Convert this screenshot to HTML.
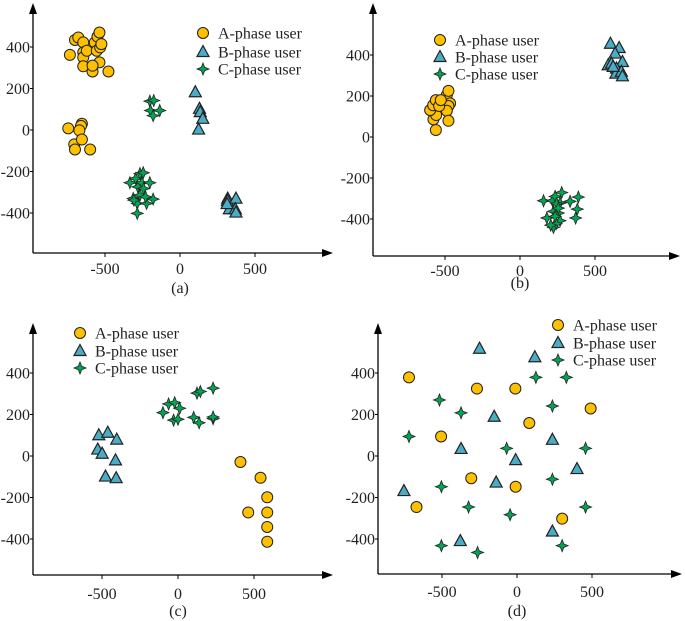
<!DOCTYPE html>
<html><head><meta charset="utf-8"><style>
body{margin:0;background:#fff}
svg{display:block;font-family:"Liberation Serif",serif}
</style></head><body>
<svg id="fig" width="685" height="621" viewBox="0 0 685 621"></svg>
<script>
// Panel (a)
const aA_x=[-734,-700,-678,-645,-645,-645,-621,-645,-583,-568,-550,-537,-555,-532,-524,-537,-583,-477,-745,-654,-660,-671,-705,-700,-654,-599];
const aA_y=[362,434,446,422,374,350,382,307,282,422,450,470,382,398,414,326,310,282,8,30,20,-2,-69,-94,-46,-94];
const aB_x=[102,130,135,152,124,318,316,329,373,369,373,314];
const aB_y=[182,102,86,54,2,-331,-342,-382,-331,-382,-398,-357];
const aC_x=[-201,-175,-197,-135,-179,-334,-296,-267,-245,-281,-254,-201,-243,-312,-267,-285,-223,-179,-285,-307,-230];
const aC_y=[139,142,94,94,69,-254,-234,-210,-206,-274,-254,-254,-282,-330,-314,-354,-354,-333,-402,-338,-322];
// Panel (b)
const bA_x=[-561,-577,-559,-599,-579,-561,-506,-488,-477,-466,-477,-488,-477,-539,-528];
const bA_y=[34,86,107,131,155,180,180,204,225,164,151,128,79,151,180];
const bB_x=[603,661,634,588,610,683,643,639,676,683,621];
const bB_y=[455,434,407,350,358,366,334,309,318,296,342];
const bC_x=[157,217,234,278,267,334,389,382,371,179,223,256,267,223,241,205,245,256,234];
const bC_y=[-311,-311,-290,-271,-322,-314,-293,-352,-395,-395,-363,-371,-408,-441,-423,-430,-325,-347,-387];
// Panel (c)
const cA_x=[411,543,587,587,587,587,462];
const cA_y=[-29,-105,-199,-272,-342,-413,-272];
const cB_x=[-521,-462,-403,-528,-499,-411,-477,-407];
const cB_y=[100,112,79,31,11,-21,-99,-107];
const cC_x=[-99,-62,-22,11,-29,0,103,139,125,147,231,231,231];
const cC_y=[209,251,257,230,173,177,186,160,303,311,327,180,188];
// Panel (d)
const dA_x=[-720,-267,-11,82,491,-506,-305,-9,-670,301];
const dA_y=[379,325,325,159,229,94,-107,-148,-246,-302];
const dB_x=[-250,119,-152,236,-373,-9,400,-139,-754,236,-378];
const dB_y=[517,476,189,78,34,-20,-63,-128,-169,-364,-410];
const dC_x=[126,329,-517,-373,236,-720,-69,457,-504,236,-323,-46,457,-504,-263,301];
const dC_y=[379,379,270,208,241,94,37,37,-148,-112,-246,-283,-246,-432,-465,-432];
const xTicks=[-500,0,500];
const yTicks=[400,200,0,-200,-400];
const legendLabels=["A-phase user","B-phase user","C-phase user"];

const NS="http://www.w3.org/2000/svg";
const svg=document.getElementById('fig');
function mk(tag,attrs,parent){const e=document.createElementNS(NS,tag);for(const k in attrs)e.setAttribute(k,attrs[k]);(parent||svg).appendChild(e);return e;}

const panels=[
 {id:'a',ax:33,x0:180,x5:255,y0:130,y4:47,axY:253,top:3,right:333,xl:268,cap:288,lx:203,ly:[33,52,69],data:[[aA_x,aA_y],[aB_x,aB_y],[aC_x,aC_y]]},
 {id:'b',ax:373,x0:520,x5:595,y0:137,y4:55,axY:256,top:3,right:680,xl:270,cap:283,lx:440,ly:[40,57,74],data:[[bA_x,bA_y],[bB_x,bB_y],[bC_x,bC_y]]},
 {id:'c',ax:33,x0:178,x5:254,y0:456,y4:373,axY:575,top:323,right:333,xl:593,cap:611,lx:80,ly:[333,351,368],data:[[cA_x,cA_y],[cB_x,cB_y],[cC_x,cC_y]]},
 {id:'d',ax:378,x0:517,x5:592,y0:456,y4:373,axY:574,top:323,right:682,xl:591,cap:611,lx:558,ly:[325,343,360],data:[[dA_x,dA_y],[dB_x,dB_y],[dC_x,dC_y]]}
];
const cols=["#FFC000","#4BACC6","#00A651"];
function marker(g,t,x,y,name){
 let e;
 if(t===0){e=mk('circle',{cx:x,cy:y,r:5.5,fill:cols[0],stroke:'#222','stroke-width':1},g);}
 else if(t===1){e=mk('polygon',{points:`${x},${y-6.5} ${x+6},${y+4.5} ${x-6},${y+4.5}`,fill:cols[1],stroke:'#222','stroke-width':1.2},g);}
 else {const s=6,i=1.7;e=mk('polygon',{points:`${x},${y-s} ${x+i},${y-i} ${x+s},${y} ${x+i},${y+i} ${x},${y+s} ${x-i},${y+i} ${x-s},${y} ${x-i},${y-i}`,fill:cols[2],stroke:'#222','stroke-width':0.8},g);}
 
 
 return e;
}
panels.forEach(p=>{
 const g=mk('g',{});
 
 
 const sx=v=>p.x0+(v)*(p.x5-p.x0)/500;
 const sy=v=>p.y0-(v)*(p.y0-p.y4)/400;
 const ya=mk('line',{x1:p.ax,y1:p.axY,x2:p.ax,y2:p.top+10,stroke:'#000','stroke-width':1.3},g);
 
 mk('polygon',{points:`${p.ax},${p.top} ${p.ax-4},${p.top+11} ${p.ax+4},${p.top+11}`,fill:'#000'},g);
 const xa=mk('line',{x1:p.ax,y1:p.axY,x2:p.right-10,y2:p.axY,stroke:'#000','stroke-width':1.3},g);
 
 mk('polygon',{points:`${p.right},${p.axY} ${p.right-11},${p.axY-4} ${p.right-11},${p.axY+4}`,fill:'#000'},g);
 xTicks.forEach(v=>{
  mk('line',{x1:sx(v),y1:p.axY,x2:sx(v),y2:p.axY+4,stroke:'#000'},g);
  const t=mk('text',{x:sx(v),y:p.xl+6,'text-anchor':'middle','font-size':16,fill:'#222'},g);t.textContent=v;
  
 });
 yTicks.forEach(v=>{
  mk('line',{x1:p.ax,y1:sy(v),x2:p.ax-3,y2:sy(v),stroke:'#000'},g);
  const t=mk('text',{x:p.ax-3,y:sy(v)+5.5,'text-anchor':'end','font-size':16,fill:'#222'},g);t.textContent=v;
  
 });
 const cap=mk('text',{x:sx(0),y:p.cap+5,'text-anchor':'middle','font-size':16,fill:'#222'},g);cap.textContent='('+p.id+')';
 
 p.data.forEach((d,k)=>{
  const xs=d[0],ys=d[1];
  for(let i=0;i<xs.length;i++) marker(g,k,sx(xs[i]),sy(ys[i]),'point-'+'abc'[k]);
 });
 legendLabels.forEach((lab,k)=>{
  marker(g,k,p.lx,p.ly[k],'legend-marker');
  const t=mk('text',{x:p.lx+15,y:p.ly[k]+5.5,'font-size':16,fill:'#222'},g);t.textContent=lab;
  
 });
});
</script>
</body></html>
